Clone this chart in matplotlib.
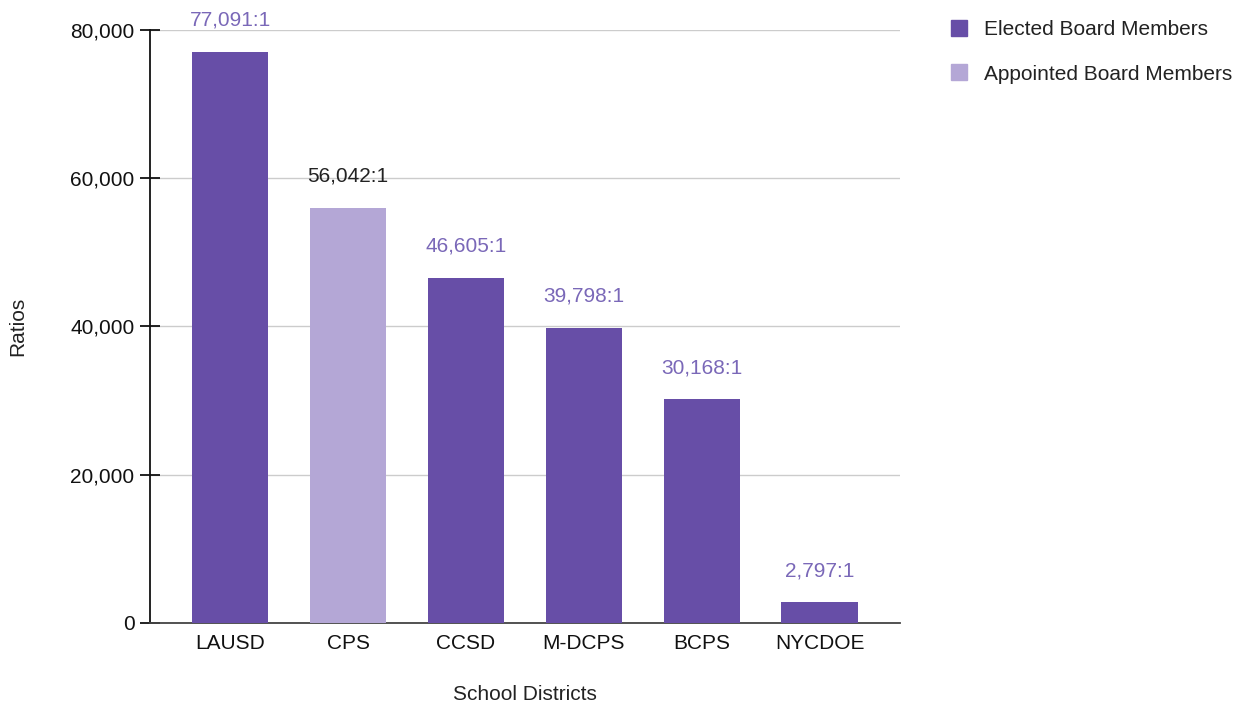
import numpy as np
import matplotlib.pyplot as plt
from matplotlib.patches import Patch

# données
districts = ["LAUSD", "CPS", "CCSD", "M-DCPS", "BCPS", "NYCDOE"]
ratios = [77091, 56042, 46605, 39798, 30168, 2797]
appointed = [False, True, False, False, False, False]

elected_color = "#674ea7"
appointed_color = "#b4a7d6"

plt.rcParams['font.family'] = ['Liberation Sans', 'DejaVu Sans']
fs = 15

fig = plt.figure(figsize=(12.49, 7.09), dpi=100)
ax = fig.add_axes([0.12, 0.1213, 0.6006, 0.8364])

x = np.arange(len(districts))
colors = [appointed_color if a else elected_color for a in appointed]
ax.bar(x, ratios, width=0.65, color=colors, zorder=3)

for xi, v, a in zip(x, ratios, appointed):
    ax.annotate(f"{v:,}:1", (xi, v), xytext=(0, 16), textcoords="offset points",
                ha="center", va="bottom", fontsize=fs,
                color="#222222" if a else "#7a68b8")

ax.set_xlim(-0.68, 5.68)
ax.set_ylim(0, 80000)
ax.set_yticks([0, 20000, 40000, 60000, 80000])
ax.set_yticklabels(["0", "20,000", "40,000", "60,000", "80,000"])
ax.set_xticks(x)
ax.set_xticklabels(districts)

ax.grid(axis="y", color="#cccccc", linewidth=1, zorder=0)
for s in ["top", "right"]:
    ax.spines[s].set_visible(False)
ax.spines["left"].set_color("#111111")
ax.spines["left"].set_linewidth(1.3)
ax.spines["bottom"].set_color("#444444")
ax.spines["bottom"].set_linewidth(1.3)

ax.tick_params(axis="y", direction="inout", length=14, width=1.3, labelsize=fs, pad=4, colors="#111111")
ax.tick_params(axis="x", length=0, labelsize=fs, pad=8, colors="#111111")

ax.set_xlabel("School Districts", fontsize=fs, labelpad=23, color="#222222")
ax.set_ylabel("Ratios", fontsize=fs, labelpad=31, color="#222222")

handles = [Patch(color=elected_color, label="Elected Board Members"),
           Patch(color=appointed_color, label="Appointed Board Members")]
fig.legend(handles=handles, loc="upper left", bbox_to_anchor=(0.746, 0.998),
           frameon=False, fontsize=fs, handlelength=0.8, handleheight=0.8,
           labelspacing=1.2, handletextpad=0.8, labelcolor="#222222")

fig.savefig("out.png", dpi=100)
